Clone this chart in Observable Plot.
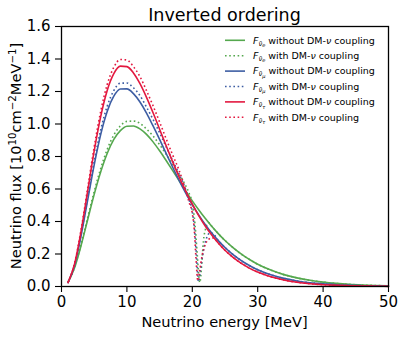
<!DOCTYPE html>
<html><head><meta charset="utf-8">
<script src="https://cdn.jsdelivr.net/npm/d3@7"></script>
<script src="https://cdn.jsdelivr.net/npm/@observablehq/plot@0.6"></script>
<style>body{margin:0;background:#fff} svg{font-family:"DejaVu Sans",sans-serif}</style>
</head><body><div id="chart"></div><script>
const xTicks = [0,10,20,30,40,50];
const yTicks = [0,0.2,0.4,0.6,0.8,1.0,1.2,1.4,1.6];

const energy = [1,2,3,4,5,6,7,8,9,10,11,12,13,14,15,16,17,18,19,20,21,22,23,24,25,26,27,28,29,30,32,34,36,38,40,42,44,46,48,50];
const fluxE   = [0.026,0.116,0.253,0.411,0.567,0.706,0.820,0.905,0.959,0.986,0.988,0.970,0.936,0.890,0.835,0.775,0.713,0.650,0.587,0.527,0.471,0.418,0.369,0.324,0.283,0.247,0.214,0.185,0.160,0.137,0.101,0.073,0.053,0.038,0.027,0.019,0.013,0.009,0.006,0.004];
const fluxMu  = [0.024,0.131,0.314,0.532,0.749,0.937,1.079,1.171,1.215,1.216,1.187,1.135,1.067,0.988,0.905,0.819,0.734,0.652,0.575,0.504,0.439,0.380,0.327,0.281,0.240,0.204,0.173,0.146,0.123,0.103,0.072,0.050,0.034,0.023,0.016,0.011,0.007,0.005,0.003,0.002];
const fluxTau = [0.024,0.139,0.341,0.587,0.834,1.047,1.208,1.310,1.356,1.353,1.314,1.248,1.164,1.069,0.968,0.866,0.767,0.673,0.586,0.507,0.435,0.371,0.315,0.266,0.223,0.187,0.156,0.130,0.107,0.089,0.060,0.040,0.026,0.017,0.011,0.007,0.005,0.003,0.002,0.001];

const energyDmE = [1,2,3,4,5,6,7,8,9,10,11,12,13,14,15,16,17,18,18.5,19,19.5,20,20.4,20.75,21.15,21.45,21.7,22,22.5,23,24,25,26,27,28,29,30,32,34,36,38,40,42,44,46,48,50];
const fluxDmE   = [0.027,0.119,0.261,0.423,0.584,0.727,0.845,0.932,0.988,1.016,1.018,1.004,0.969,0.926,0.873,0.814,0.752,0.689,0.657,0.620,0.575,0.510,0.390,0.200,0.025,0.140,0.280,0.350,0.393,0.369,0.324,0.283,0.247,0.214,0.185,0.160,0.137,0.101,0.073,0.053,0.038,0.027,0.019,0.013,0.009,0.006,0.004];
const energyDmMu = [1,2,3,4,5,6,7,8,9,10,11,12,13,14,15,16,17,18,18.5,19,19.5,20,20.35,20.65,20.95,21.25,21.7,22.2,22.7,23.2,24,25,26,27,28,29,30,32,34,36,38,40,42,44,46,48,50];
const fluxDmMu  = [0.025,0.135,0.323,0.548,0.771,0.965,1.111,1.206,1.251,1.252,1.223,1.175,1.104,1.028,0.946,0.860,0.774,0.691,0.648,0.595,0.535,0.460,0.350,0.180,0.030,0.100,0.220,0.300,0.330,0.325,0.281,0.240,0.204,0.173,0.146,0.123,0.103,0.072,0.050,0.034,0.023,0.016,0.011,0.007,0.005,0.003,0.002];
const energyDmTau = [1,2,3,4,5,6,7,8,9,10,11,12,13,14,15,16,17,18,18.5,19,19.5,20,20.3,20.55,20.85,21.1,21.5,22,22.5,23,23.5,24,25,26,27,28,29,30,32,34,36,38,40,42,44,46,48,50];
const fluxDmTau = [0.025,0.143,0.351,0.605,0.859,1.078,1.244,1.349,1.397,1.394,1.353,1.292,1.205,1.112,1.012,0.909,0.809,0.713,0.655,0.590,0.520,0.450,0.350,0.180,0.035,0.090,0.190,0.260,0.290,0.300,0.290,0.266,0.223,0.187,0.156,0.130,0.107,0.089,0.060,0.040,0.026,0.017,0.011,0.007,0.005,0.003,0.002,0.001];

const flavours = ["e","μ","τ"];
const colors = ["#55a84e","#3d5da3","#e3183f"];
const titleText = "Inverted ordering";
const xLabel = "Neutrino energy [MeV]";

const rows = (E, F) => E.map((e, i) => ({E: e, F: F[i]}));
const series = [
  {data: rows(energy, fluxE), c: colors[0], dm: false, f: flavours[0]},
  {data: rows(energyDmE, fluxDmE), c: colors[0], dm: true, f: flavours[0]},
  {data: rows(energy, fluxMu), c: colors[1], dm: false, f: flavours[1]},
  {data: rows(energyDmMu, fluxDmMu), c: colors[1], dm: true, f: flavours[1]},
  {data: rows(energy, fluxTau), c: colors[2], dm: false, f: flavours[2]},
  {data: rows(energyDmTau, fluxDmTau), c: colors[2], dm: true, f: flavours[2]}
];
const dash = "1.6,2.6";

const chart = Plot.plot({
  width: 405, height: 337,
  marginLeft: 61, marginRight: 17, marginTop: 26, marginBottom: 51,
  x: {domain: [0, 50]},
  y: {domain: [0, 1.6]},
  style: {fontFamily: "DejaVu Sans", fontSize: "15px", color: "black", background: "white"},
  marks: [
    ...series.map(s => Plot.line(s.data, {x: "E", y: "F", stroke: s.c, strokeWidth: 1.6, curve: "monotone-x",
      strokeDasharray: s.dm ? dash : null, strokeLinecap: s.dm ? "butt" : "round"})),
    Plot.frame({stroke: "black", strokeWidth: 1.3}),
    Plot.axisX({ticks: xTicks, tickSize: 6, tickPadding: 4, label: null, fontSize: 15, strokeWidth: 1.1}),
    Plot.axisY({ticks: yTicks, tickSize: 6, tickPadding: 5, tickFormat: d3.format(".1f"), label: null, fontSize: 15, strokeWidth: 1.1})
  ]
});
document.getElementById("chart").appendChild(chart);

const svg = d3.select(chart);
const cx = (61 + 388) / 2;
svg.append("text").attr("x", cx).attr("y", 20.5).attr("text-anchor", "middle")
  .attr("font-size", 17.5).attr("fill", "black").text(titleText);
svg.append("text").attr("x", cx).attr("y", 326.5).attr("text-anchor", "middle")
  .attr("font-size", 14.6).attr("fill", "black").text(xLabel);

const yl = svg.append("text").attr("transform", "translate(21,156) rotate(-90)")
  .attr("text-anchor", "middle").attr("font-size", 14.6).attr("fill", "black");
yl.append("tspan").text("Neutrino flux [10");
yl.append("tspan").attr("font-size", 10.2).attr("dy", -5.5).text("10");
yl.append("tspan").attr("dy", 5.5).text("cm");
yl.append("tspan").attr("font-size", 10.2).attr("dy", -5.5).text("−2");
yl.append("tspan").attr("dy", 5.5).text("MeV");
yl.append("tspan").attr("font-size", 10.2).attr("dy", -5.5).text("−1");
yl.append("tspan").attr("dy", 5.5).text("]");

const legY = [40.3, 55.7, 71.1, 86.5, 101.9, 117.3];
series.forEach((s, i) => {
  const y = legY[i];
  svg.append("line").attr("x1", 225).attr("x2", 245).attr("y1", y).attr("y2", y)
    .attr("stroke", s.c).attr("stroke-width", 1.6).attr("stroke-dasharray", s.dm ? dash : null);
  const t = svg.append("text").attr("x", 253).attr("y", y + 3.3).attr("font-size", 9.5)
    .attr("text-anchor", "start").attr("fill", "black");
  t.append("tspan").attr("font-style", "italic").text("F");
  t.append("tspan").attr("font-size", 6.7).attr("font-style", "italic").attr("dy", 2).text("ν\u0304");
  t.append("tspan").attr("font-size", 5).attr("font-style", "italic").attr("dy", 1.3).text(s.f);
  t.append("tspan").attr("dy", -3.3).text(s.dm ? " with DM-" : " without DM-");
  t.append("tspan").attr("font-style", "italic").text("ν");
  t.append("tspan").text(" coupling");
});
</script></body></html>
